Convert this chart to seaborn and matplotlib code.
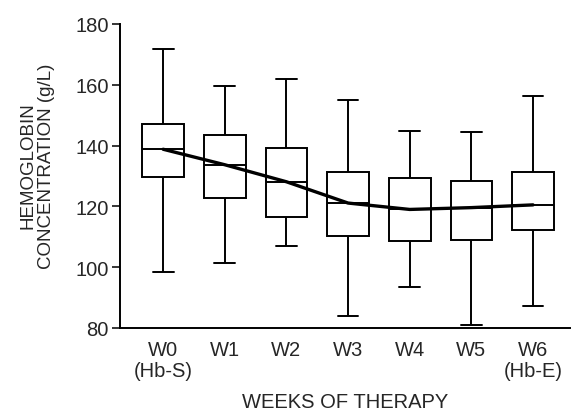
import numpy as np
import pandas as pd
import matplotlib
matplotlib.use("Agg")
import matplotlib.pyplot as plt
import seaborn as sns

weeks = ["W0", "W1", "W2", "W3", "W4", "W5", "W6"]
tick_labels = ["W0\n(Hb-S)", "W1", "W2", "W3", "W4", "W5", "W6\n(Hb-E)"]
whisker_low = [98.5, 101.3, 107.1, 84.0, 93.6, 81.0, 87.2]
q1 = [129.7, 122.8, 116.4, 110.3, 108.6, 108.8, 112.1]
median = [138.8, 133.7, 128.1, 121.1, 119.0, 119.6, 120.5]
q3 = [147.0, 143.5, 139.2, 131.4, 129.2, 128.4, 131.2]
whisker_high = [171.8, 159.5, 162.0, 155.1, 144.7, 144.5, 156.3]

# five summary values per week -> boxplot with whiskers to min/max reproduces them
rows = []
for i, w in enumerate(weeks):
    for v in (whisker_low[i], q1[i], median[i], q3[i], whisker_high[i]):
        rows.append({"week": w, "hb": v})
df = pd.DataFrame(rows)

sns.set_style("white")
plt.rcParams["font.family"] = ["Liberation Sans", "DejaVu Sans"]

fig = plt.figure(figsize=(5.71, 4.14), dpi=100)
ax = fig.add_axes([120 / 571, 85 / 414, 450 / 571, 304 / 414])

sns.boxplot(data=df, x="week", y="hb", order=weeks, whis=np.inf, width=0.675,
            color="white", linecolor="black", linewidth=1.4, fliersize=0, ax=ax)

sns.lineplot(x=np.arange(len(weeks)), y=median, color="black", linewidth=2.4, ax=ax)

ax.set_ylim(80, 180)
ax.set_xlim(-0.70, 6.6)
ax.set_yticks([80, 100, 120, 140, 160, 180])
ax.set_xticks(range(len(weeks)))
ax.set_xticklabels(tick_labels, fontsize=14.5, linespacing=1.1)
ax.tick_params(axis="y", labelsize=14.5, length=6, width=1.3, direction="out", pad=2, left=True)
ax.tick_params(axis="x", length=0, pad=9)

for s in ("top", "right"):
    ax.spines[s].set_visible(False)
for s in ("left", "bottom"):
    ax.spines[s].set_linewidth(1.4)
    ax.spines[s].set_color("black")

ax.set_ylabel("HEMOGLOBIN\nCONCENTRATION (g/L)", fontsize=13.5, linespacing=1.1)
ax.yaxis.label.set_va("center")
ax.yaxis.set_label_coords(-0.184, 0.536)
ax.set_xlabel("WEEKS OF THERAPY", fontsize=14.5)
ax.xaxis.label.set_va("bottom")
ax.xaxis.set_label_coords(0.5, -0.274)

fig.savefig("out.png", dpi=100)
